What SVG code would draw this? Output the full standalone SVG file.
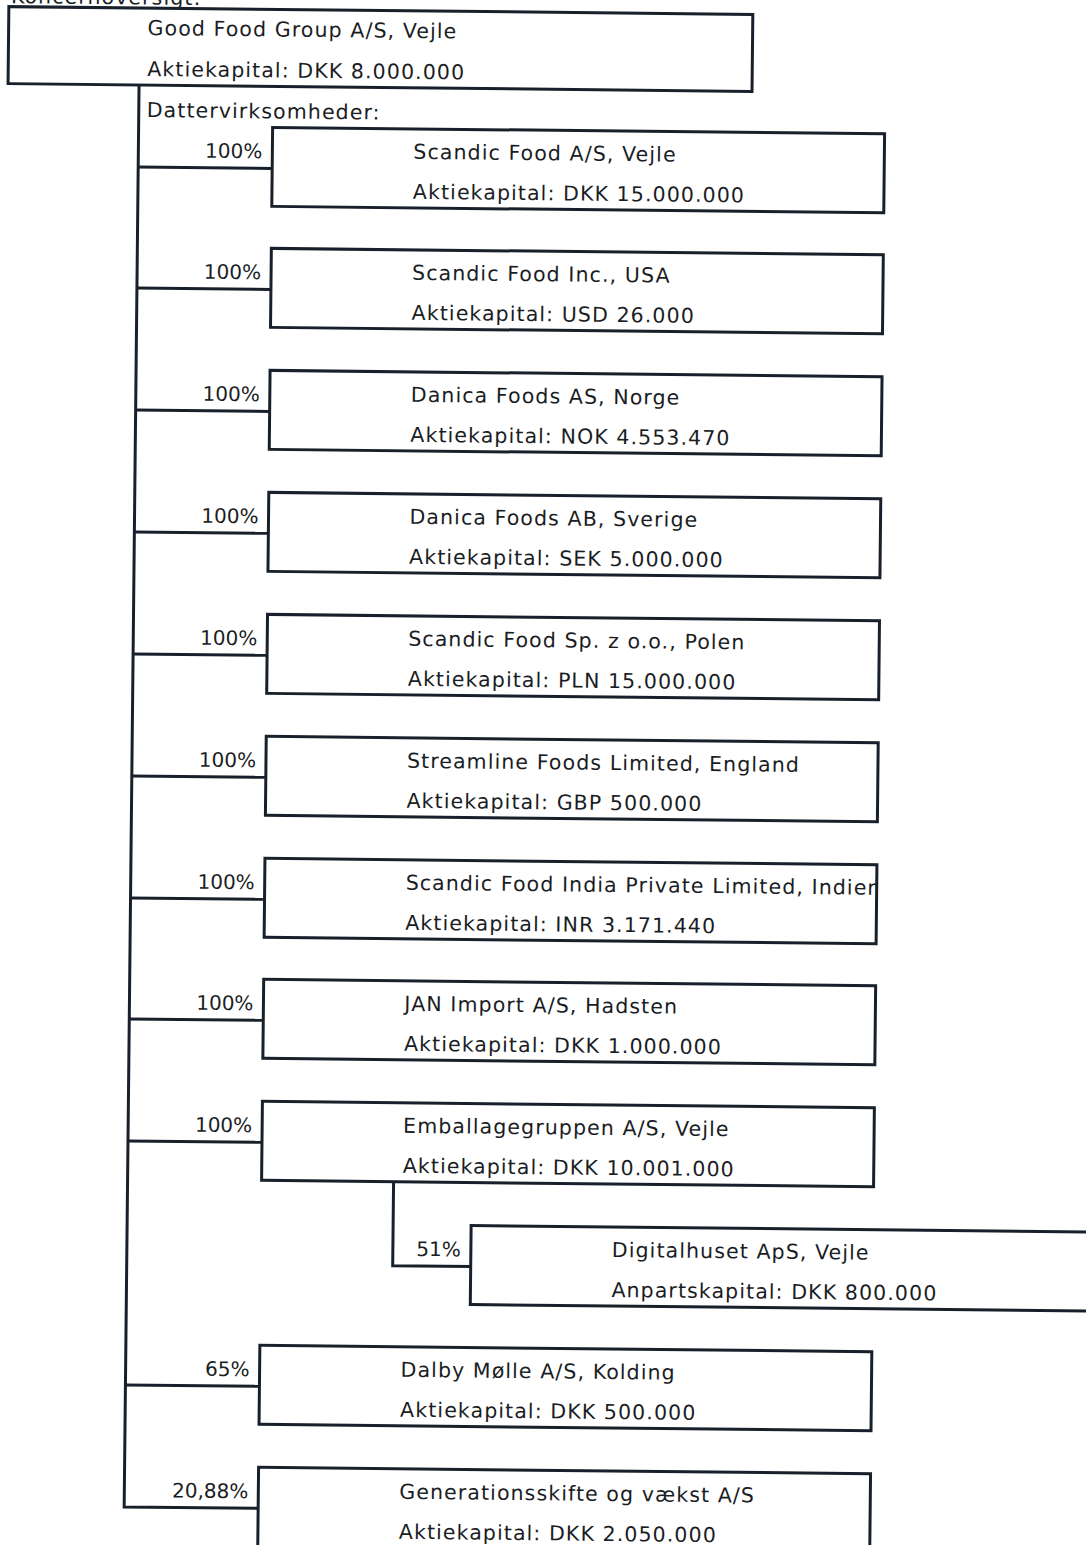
<svg xmlns="http://www.w3.org/2000/svg" width="1086" height="1545" viewBox="0 0 1086 1545">
<style>
.box{fill:#fff;stroke:#18212b;stroke-width:3}
.ln{fill:none;stroke:#18212b;stroke-width:3}
.t{font-family:"DejaVu Sans",Verdana,sans-serif;font-size:20.5px;letter-spacing:1.1px;fill:#1a1d24}
.p{font-family:"DejaVu Sans",Verdana,sans-serif;font-size:20px;fill:#1a1d24;text-anchor:end}
</style>
<defs>
<clipPath id="clipIndia"><rect x="273" y="857" width="612" height="79"/></clipPath>
</defs>
<rect width="1086" height="1545" fill="#fff"/>
<g transform="rotate(0.6 140 90)">
<text class="t" x="10" y="4.5">Koncernoversigt:</text>
<g id="connectors">
<path class="ln" d="M139 85 V1507 H273"/>
<path class="ln" d="M139 167 H273"/>
<path class="ln" d="M139 288 H273"/>
<path class="ln" d="M139 410 H273"/>
<path class="ln" d="M139 532 H273"/>
<path class="ln" d="M139 654 H273"/>
<path class="ln" d="M139 776 H273"/>
<path class="ln" d="M139 898 H273"/>
<path class="ln" d="M139 1019 H273"/>
<path class="ln" d="M139 1141 H273"/>
<path class="ln" d="M139 1385 H273"/>
<path class="ln" d="M405 1179 V1263 H483"/>
</g>
<g id="parent">
<rect class="box" x="8" y="8" width="744" height="77"/>
<text class="t" x="147" y="35">Good Food Group A/S, Vejle</text>
<text class="t" x="147" y="76">Aktiekapital: DKK 8.000.000</text>
</g>
<text class="t" x="147" y="117">Dattervirksomheder:</text>
<g id="n1">
<rect class="box" x="273" y="126" width="612" height="79"/>
<text class="p" x="263" y="157">100%</text>
<text class="t" x="414" y="156">Scandic Food A/S, Vejle</text>
<text class="t" x="414" y="196">Aktiekapital: DKK 15.000.000</text>
</g>
<g id="n2">
<rect class="box" x="273" y="247" width="612" height="79"/>
<text class="p" x="263" y="278">100%</text>
<text class="t" x="414" y="277">Scandic Food Inc., USA</text>
<text class="t" x="414" y="317">Aktiekapital: USD 26.000</text>
</g>
<g id="n3">
<rect class="box" x="273" y="369" width="612" height="79"/>
<text class="p" x="263" y="400">100%</text>
<text class="t" x="414" y="399">Danica Foods AS, Norge</text>
<text class="t" x="414" y="439">Aktiekapital: NOK 4.553.470</text>
</g>
<g id="n4">
<rect class="box" x="273" y="491" width="612" height="79"/>
<text class="p" x="263" y="522">100%</text>
<text class="t" x="414" y="521">Danica Foods AB, Sverige</text>
<text class="t" x="414" y="561">Aktiekapital: SEK 5.000.000</text>
</g>
<g id="n5">
<rect class="box" x="273" y="613" width="612" height="79"/>
<text class="p" x="263" y="644">100%</text>
<text class="t" x="414" y="643">Scandic Food Sp. z o.o., Polen</text>
<text class="t" x="414" y="683">Aktiekapital: PLN 15.000.000</text>
</g>
<g id="n6">
<rect class="box" x="273" y="735" width="612" height="79"/>
<text class="p" x="263" y="766">100%</text>
<text class="t" x="414" y="765">Streamline Foods Limited, England</text>
<text class="t" x="414" y="805">Aktiekapital: GBP 500.000</text>
</g>
<g id="n7">
<rect class="box" x="273" y="857" width="612" height="79"/>
<text class="p" x="263" y="888">100%</text>
<text class="t" x="414" y="887" clip-path="url(#clipIndia)">Scandic Food India Private Limited, Indien</text>
<text class="t" x="414" y="927">Aktiekapital: INR 3.171.440</text>
</g>
<g id="n8">
<rect class="box" x="273" y="978" width="612" height="79"/>
<text class="p" x="263" y="1009">100%</text>
<text class="t" x="414" y="1008">JAN Import A/S, Hadsten</text>
<text class="t" x="414" y="1048">Aktiekapital: DKK 1.000.000</text>
</g>
<g id="n9">
<rect class="box" x="273" y="1100" width="612" height="79"/>
<text class="p" x="263" y="1131">100%</text>
<text class="t" x="414" y="1130">Emballagegruppen A/S, Vejle</text>
<text class="t" x="414" y="1170">Aktiekapital: DKK 10.001.000</text>
</g>
<g id="n10">
<rect class="box" x="483" y="1222" width="700" height="79"/>
<text class="p" x="473" y="1253">51%</text>
<text class="t" x="624" y="1252">Digitalhuset ApS, Vejle</text>
<text class="t" x="624" y="1292">Anpartskapital: DKK 800.000</text>
</g>
<g id="n11">
<rect class="box" x="273" y="1344" width="612" height="79"/>
<text class="p" x="263" y="1375">65%</text>
<text class="t" x="414" y="1374">Dalby Mølle A/S, Kolding</text>
<text class="t" x="414" y="1414">Aktiekapital: DKK 500.000</text>
</g>
<g id="n12">
<rect class="box" x="273" y="1466" width="612" height="90"/>
<text class="p" x="263" y="1497">20,88%</text>
<text class="t" x="414" y="1496">Generationsskifte og vækst A/S</text>
<text class="t" x="414" y="1536">Aktiekapital: DKK 2.050.000</text>
</g>
</g>
</svg>
